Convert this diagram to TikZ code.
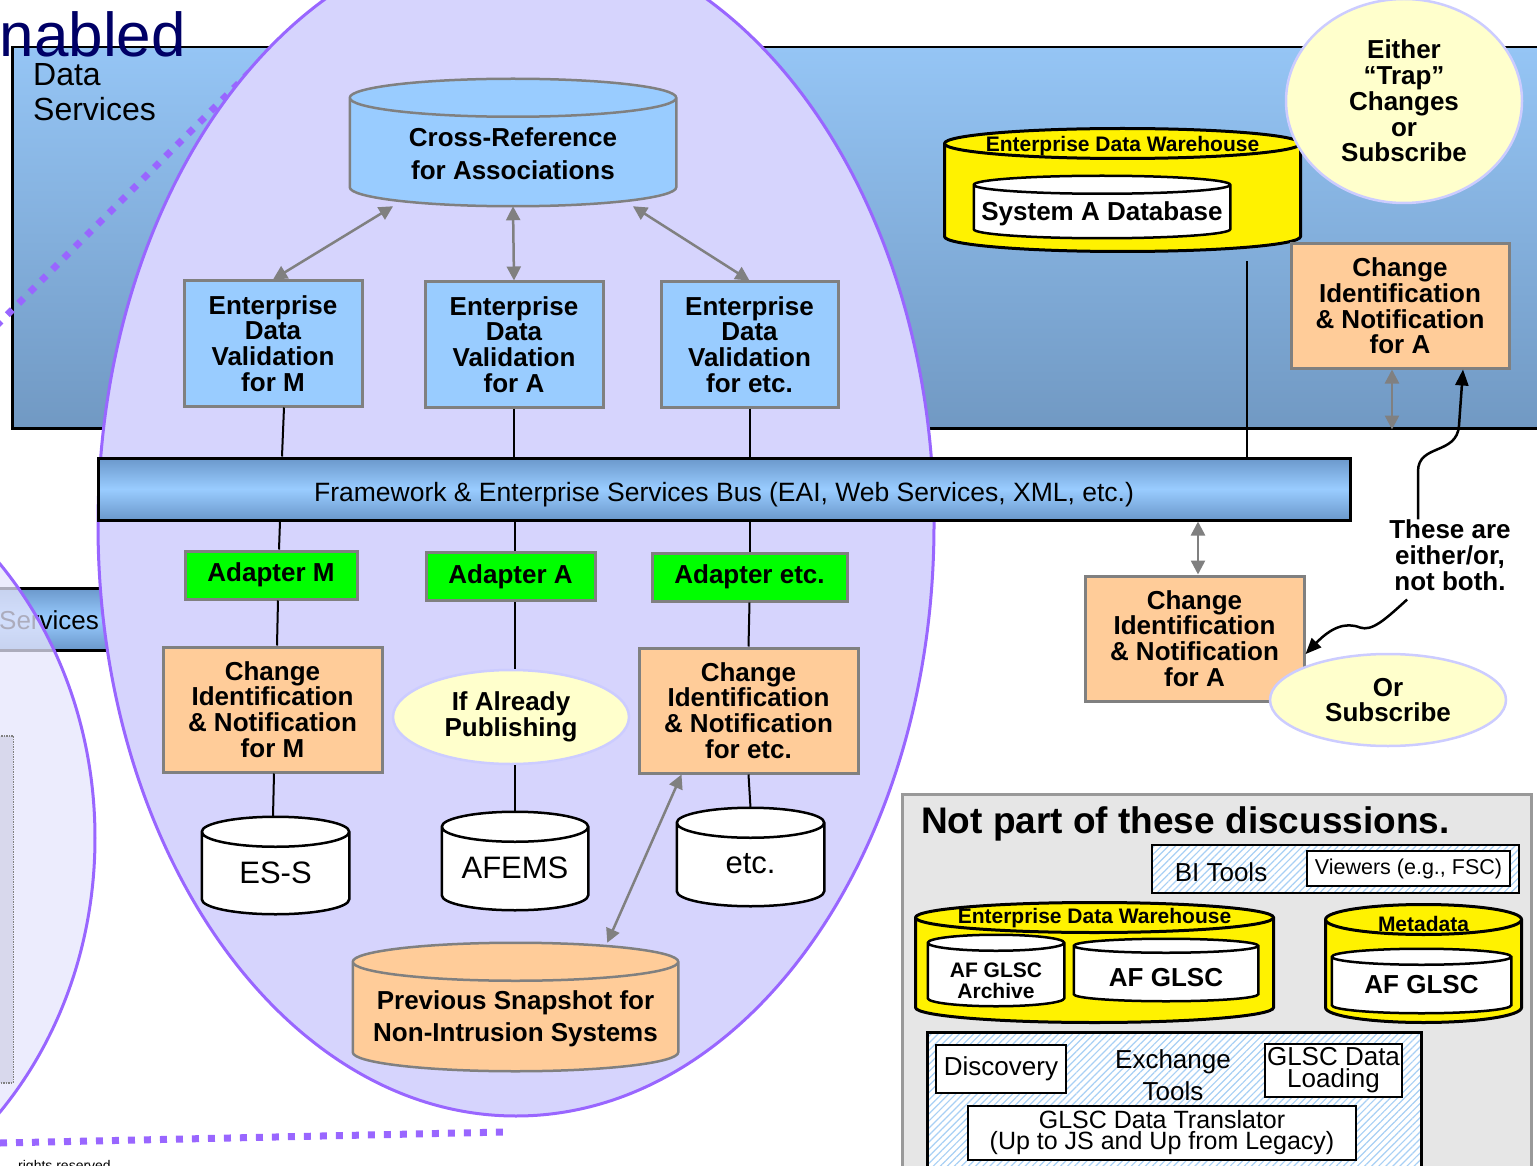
\documentclass[tikz,border=0pt]{standalone}
\usepackage{fontspec}
\setmainfont{Liberation Sans}
\usetikzlibrary{positioning,shapes.geometric,arrows.meta,patterns.meta}

\definecolor{dsTop}{HTML}{95C5F5}
\definecolor{dsBot}{HTML}{7199C3}
\definecolor{busEdge}{HTML}{6B98CB}
\definecolor{busMid}{HTML}{99CCFF}
\definecolor{lav}{HTML}{D6D4FD}
\definecolor{lavLight}{HTML}{E6E6FC}
\definecolor{lilac}{HTML}{9966FF}
\definecolor{boxBlue}{HTML}{99CCFF}
\definecolor{peach}{HTML}{FFCC99}
\definecolor{adGreen}{HTML}{00FF00}
\definecolor{cream}{HTML}{FFFFCC}
\definecolor{creamEdge}{HTML}{CCCCFF}
\definecolor{navy}{HTML}{000066}
\definecolor{panelGray}{HTML}{E6E6E6}
\definecolor{hatchBlue}{HTML}{A8D0F5}
\definecolor{hiddenGray}{HTML}{D8D8EC}

\newcommand{\boxfont}{\fontsize{26}{25.8}\selectfont\bfseries}

% database drum: a rectangle with an elliptic top and bottom
\makeatletter
\pgfkeys{/pgf/drum end/.initial=10pt}
\pgfdeclareshape{drum}{%
  \inheritsavedanchors[from=rectangle]%
  \inheritanchorborder[from=rectangle]%
  \inheritanchor[from=rectangle]{center}%
  \inheritanchor[from=rectangle]{text}%
  \inheritanchor[from=rectangle]{mid}%
  \inheritanchor[from=rectangle]{base}%
  \inheritanchor[from=rectangle]{north}%
  \inheritanchor[from=rectangle]{south}%
  \inheritanchor[from=rectangle]{east}%
  \inheritanchor[from=rectangle]{west}%
  \inheritanchor[from=rectangle]{north east}%
  \inheritanchor[from=rectangle]{north west}%
  \inheritanchor[from=rectangle]{south east}%
  \inheritanchor[from=rectangle]{south west}%
  \backgroundpath{%
    \southwest \edef\drum@l{\the\pgf@x}\edef\drum@b{\the\pgf@y}%
    \northeast \edef\drum@r{\the\pgf@x}\edef\drum@t{\the\pgf@y}%
    \pgfmathsetlengthmacro\drum@d{\pgfkeysvalueof{/pgf/drum end}}%
    \pgfmathsetlengthmacro\drum@rx{((\drum@r)-(\drum@l))/2}%
    \pgfmathsetlengthmacro\drum@tc{(\drum@t)-(\drum@d)}%
    \pgfmathsetlengthmacro\drum@bc{(\drum@b)+(\drum@d)}%
    \pgfpathmoveto{\pgfpoint{\drum@l}{\drum@tc}}%
    \pgfpathlineto{\pgfpoint{\drum@l}{\drum@bc}}%
    \pgfpatharc{180}{360}{\drum@rx and \drum@d}%
    \pgfpathlineto{\pgfpoint{\drum@r}{\drum@tc}}%
    \pgfpatharc{0}{180}{\drum@rx and \drum@d}%
    \pgfpathclose
    \pgfpathmoveto{\pgfpoint{\drum@l}{\drum@tc}}%
    \pgfpatharc{180}{360}{\drum@rx and \drum@d}%
  }%
}
\makeatother

\tikzset{
  edv/.style={draw=gray, line width=3pt, fill=boxBlue, minimum width=178pt, minimum height=125pt,
    font=\boxfont, align=center, inner sep=0pt},
  cin/.style={edv, fill=peach, minimum width=219pt},
  adapter/.style={draw=gray, line width=3pt, fill=adGreen, minimum height=48pt, font=\boxfont, inner sep=0pt},
  bubble/.style={ellipse, draw=creamEdge, line width=2.5pt, fill=cream, font=\boxfont, align=center, inner sep=0pt},
  bus/.style={draw, line width=3pt, shading=axis, top color=busEdge, bottom color=busEdge, middle color=busMid, inner sep=0pt},
  drum end/.code={\pgfkeyssetvalue{/pgf/drum end}{#1}},
  db/.style={shape=drum, draw, line width=2.5pt, fill=white, inner sep=0pt},
  dbtext/.style={font=\fontsize{31}{31}\selectfont, yshift=-7pt},
  dblabel/.style={font=\fontsize{26}{33}\selectfont\bfseries, align=center},
  edwtag/.style={font=\fontsize{21}{21}\selectfont\bfseries},
  link/.style={line width=2pt},
  twoway/.style={draw=gray, line width=2.5pt, {Triangle[length=14pt,width=14pt]}-{Triangle[length=14pt,width=14pt]}},
  pointer/.style={line width=2.5pt, -{Triangle[length=16pt,width=13pt]}},
  hatched/.style={draw, line width=2.5pt, preaction={fill=white}, pattern={Lines[angle=45,distance=5pt,line width=1.2pt]}, pattern color=hatchBlue, inner sep=0pt},
  plainbox/.style={draw, line width=2.5pt, fill=white, font=\fontsize{26}{22}\selectfont, align=center, inner sep=0pt},
}

\begin{document}
\begin{tikzpicture}[x=1pt,y=-1pt]
\useasboundingbox (0,0) rectangle (1537,1166);

% data services backdrop
\node (dsbox) [draw, line width=2.5pt, top color=dsTop, bottom color=dsBot, minimum width=1540pt, minimum height=381pt, inner sep=0pt, anchor=north west] at (11,46) {};
\node (dstitle) [anchor=north west, inner sep=0pt, align=left, font=\fontsize{32}{35}\selectfont] at (33,63) {Data\\Services};
\node (enabled) [anchor=base east, inner sep=0pt, text=navy, font=\fontsize{62}{62}\selectfont] at (186,57) {nabled};
\draw [lilac, line width=7pt, dash pattern=on 7pt off 9pt] (-4,326) -- (280,42);

% left neighbour, mostly cut off
\node (svcbar) [bus, minimum width=300pt, minimum height=62pt, anchor=east] at (200,619) {};
\node (svctext) [anchor=base west, inner sep=0pt, font=\fontsize{26}{26}\selectfont] at (-1,629) {Services};
\node (leftpool) [ellipse, draw=lilac, line width=3pt, fill=lavLight, fill opacity=0.75, minimum width=700pt, minimum height=800pt] at (-255,838) {};
\node (hidden) [draw=gray, densely dotted, line width=1.5pt, fill=hiddenGray, minimum width=200pt, minimum height=347pt, anchor=north east] at (14,735) {};
\draw [lilac, line width=7pt, dash pattern=on 7pt off 9pt] (0,1143) -- (505,1132);
\node (rights) [anchor=base west, inner sep=0pt, font=\fontsize{14}{14}\selectfont] at (18,1170) {rights reserved};

% the big pool
\node (pool) [ellipse, draw=lilac, line width=3pt, fill=lav, minimum width=836pt, minimum height=1182pt, inner sep=0pt] at (516,525) {};

\node (xref) [db, draw=gray, fill=boxBlue, minimum width=324pt, minimum height=125pt, drum end=19pt,
  label={[dblabel, yshift=-11pt]center:Cross-Reference\\for Associations}] at (513,142.5) {};

\node (edvM) [edv] at (273,343.5) {Enterprise\\Data\\Validation\\for M};
\node (edvA) [edv] at (514,344.5) {Enterprise\\Data\\Validation\\for A};
\node (edvE) [edv, minimum width=177pt] at (749.5,344.5) {Enterprise\\Data\\Validation\\for etc.};

\node (bus) [bus, minimum width=1252pt, minimum height=62pt, text height=25pt, text depth=0pt, font=\fontsize{26.5}{26.5}\selectfont] at (724,489) {Framework \& Enterprise Services Bus (EAI, Web Services, XML, etc.)};

\node (adM) [adapter, minimum width=172pt] at (271,575) {Adapter M};
\node (adA) [adapter, minimum width=169pt] at (510.5,576.5) {Adapter A};
\node (adE) [adapter, minimum width=195pt] at (749.5,577) {Adapter etc.};

\node (cinM) [cin] at (272.5,709.5) {Change\\Identification\\\& Notification\\for M};
\node (pub) [bubble, minimum width=236pt, minimum height=94pt] at (511,717) {If Already\\Publishing};
\node (cinE) [cin] at (748.5,710.5) {Change\\Identification\\\& Notification\\for etc.};

\node (ess) [db, minimum width=145pt, minimum height=95pt, drum end=15pt, label={[dbtext]center:ES-S}] at (275.5,865.5) {};
\node (afems) [db, minimum width=144pt, minimum height=96pt, drum end=15pt, label={[dbtext]center:AFEMS}] at (515,861) {};
\node (etcdb) [db, minimum width=145pt, minimum height=96pt, drum end=15pt, label={[dbtext]center:etc.}] at (750.5,857) {};

\node (snap) [db, draw=gray, fill=peach, minimum width=323pt, minimum height=126pt, drum end=19pt,
  label={[dblabel, font=\fontsize{26}{32}\selectfont\bfseries, yshift=-12pt]center:Previous Snapshot for\\Non-Intrusion Systems}] at (515.5,1007) {};

\draw [twoway] (xref.208) -- (edvM.north);
\draw [twoway] (xref.south) -- (edvA.north);
\draw [twoway] (xref.332) -- (edvE.north);

\draw [link] ([xshift=11pt]edvM.south) -- ([xshift=9pt]edvM.south |- bus.north);
\draw [link] (edvA.south) -- (edvA.south |- bus.north);
\draw [link] (edvE.south) -- (edvE.south |- bus.north);
\draw [link] ([xshift=9pt]adM.north |- bus.south) -- ([xshift=8pt]adM.north);
\draw [link] ([xshift=4.5pt]adA.north |- bus.south) -- ([xshift=4.5pt]adA.north);
\draw [link] (adE.north |- bus.south) -- (adE.north);
\draw [link] ([xshift=7pt]adM.south) -- ([xshift=4.5pt]cinM.north);
\draw [link] ([xshift=4.5pt]adA.south) -- ([xshift=4pt]pub.north);
\draw [link] (adE.south) -- (cinE.north);
\draw [link] ([xshift=1.5pt]cinM.south) -- ([xshift=-2.5pt]ess.north);
\draw [link] ([xshift=4pt]pub.south) -- (afems.north);
\draw [link] (cinE.south) -- (etcdb.north);
\draw [twoway] ([xshift=-67pt]cinE.south) -- (snap.35);

% system A side
\node (edw) [db, fill=yellow, line width=3pt, minimum width=353pt, minimum height=120pt, drum end=15pt,
  label={[edwtag, yshift=44pt]center:Enterprise Data Warehouse}] at (1122.5,190) {};
\node (sysA) [db, minimum width=254pt, minimum height=60pt, drum end=9pt,
  label={[edwtag, font=\boxfont, yshift=-7pt]center:System A Database}] at (1102,207) {};
\node (trap) [bubble, minimum width=236pt, minimum height=204pt] at (1404,101) {Either\\“Trap”\\Changes\\or\\Subscribe};
\draw [link] ([xshift=124.5pt,yshift=-10pt]edw.south) -- ([xshift=523pt]bus.north);

\node (cinT) [cin, minimum width=218pt, minimum height=124pt] at (1400,306) {Change\\Identification\\\& Notification\\for A};
\draw [twoway] ([xshift=-8pt]cinT.south) -- ([xshift=-8pt]cinT.south |- dsbox.south);

\node (either) [font=\boxfont, align=center, inner sep=0pt] at (1450,555) {These are\\either/or,\\not both.};
\draw [pointer] ([xshift=-32pt]either.north) -- ++(0,-48) .. controls +(0,-28) and +(-2,30) .. ++(41,-46) -- ([xshift=63pt]cinT.south);

\node (cinB) [cin] at (1194.5,638.5) {Change\\Identification\\\& Notification\\for A};
\draw [twoway] ([xshift=3.5pt]cinB.north) -- ([xshift=3.5pt]cinB.north |- bus.south);
\node (orsub) [bubble, minimum width=236pt, minimum height=92pt] at (1388,700) {Or\\Subscribe};
\draw [pointer] ([xshift=18pt,yshift=-9pt]either.south west) .. controls +(-22,20) and +(12,4) .. ++(-47,28)
  .. controls +(-15,-6) and +(25,-26) .. (cinB.-8);

% out of scope
\node (panel) [draw=gray!80, line width=2.5pt, fill=panelGray, anchor=north west, minimum width=629pt, minimum height=400pt] at (901,793) {};
\node (paneltitle) [anchor=base west, inner sep=0pt, font=\fontsize{37}{37}\selectfont\bfseries] at (921,833) {Not part of these discussions.};
\node (bitools) [hatched, minimum width=367pt, minimum height=48pt] at (1335.5,869) {};
\node (bilabel) [font=\fontsize{26}{26}\selectfont] at (1221,872) {BI Tools};
\node (viewers) [plainbox, minimum width=203pt, minimum height=35pt, font=\fontsize{21.5}{21.5}\selectfont] at (1408.5,868.5) {Viewers (e.g., FSC)};

\node (edw2) [db, fill=yellow, line width=3pt, minimum width=355pt, minimum height=117pt, drum end=15pt,
  label={[edwtag, yshift=44.5pt]center:Enterprise Data Warehouse}] at (1094.5,962.5) {};
\node (archive) [db, minimum width=134pt, minimum height=69pt, drum end=8pt,
  label={[edwtag, align=center, yshift=-10pt]center:AF GLSC\\Archive}] at (996,970.5) {};
\node (glsc) [db, minimum width=182pt, minimum height=60pt, drum end=7pt,
  label={[edwtag, font=\boxfont, yshift=-8pt]center:AF GLSC}] at (1166,970) {};
\node (meta) [db, fill=yellow, line width=3pt, minimum width=193pt, minimum height=115pt, drum end=15pt,
  label={[edwtag, yshift=39.5pt]center:Metadata}] at (1423.5,963.5) {};
\node (metaglsc) [db, minimum width=177pt, minimum height=62pt, drum end=8pt,
  label={[edwtag, font=\boxfont, yshift=-4pt]center:AF GLSC}] at (1421.5,981) {};

\node (exch) [hatched, anchor=north west, minimum width=494pt, minimum height=160pt] at (926,1031) {};
\node (discovery) [plainbox, minimum width=130pt, minimum height=48pt] at (1001,1069) {Discovery};
\node (exlabel) [font=\fontsize{26}{32}\selectfont, align=center] at (1173,1075) {Exchange\\Tools};
\node (loading) [plainbox, minimum width=137pt, minimum height=53pt] at (1333.5,1070.5) {GLSC Data\\Loading};
\node (translator) [plainbox, minimum width=388pt, minimum height=54pt, font=\fontsize{25}{21}\selectfont] at (1162,1133) {GLSC Data Translator\\(Up to JS and Up from Legacy)};
\end{tikzpicture}
\end{document}
